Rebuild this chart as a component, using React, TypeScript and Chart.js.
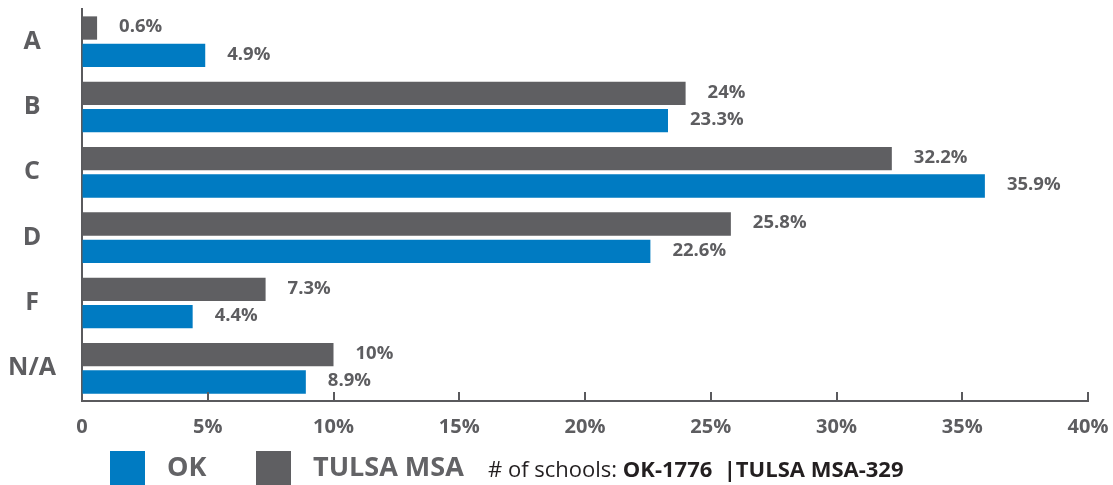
import React, { useEffect, useRef } from "react";
import { Chart, registerables } from "chart.js";

Chart.register(...registerables);

const categories = ["A", "B", "C", "D", "F", "N/A"];
const tulsaValues = [0.6, 24, 32.2, 25.8, 7.3, 10];
const okValues = [4.9, 23.3, 35.9, 22.6, 4.4, 8.9];
const xTickValues = [0, 5, 10, 15, 20, 25, 30, 35, 40];
const seriesLabels = ["TULSA MSA", "OK"];
const schoolsNote = "# of schools: ";
const schoolsCounts = "OK-1776  |TULSA MSA-329";

const BLUE = "#007bc2";
const GRAY = "#5f5f62";
const TEXT = "#5d5d60";
const AXIS = "#5a5a5d";
const FONT = "'Open Sans', 'DejaVu Sans', sans-serif";

const zeroPadding = (s: any) => {
  s.paddingTop = 0;
  s.paddingBottom = 0;
  s.paddingLeft = 0;
  s.paddingRight = 0;
};

const tickMarksPlugin = {
  id: "tickMarks",
  afterDraw(chart: any) {
    const x = chart.scales.x;
    const ctx = chart.ctx;
    const yAxis = chart.chartArea.bottom;
    ctx.save();
    ctx.strokeStyle = AXIS;
    ctx.lineWidth = 2;
    xTickValues.forEach((v) => {
      const px = Math.round(x.getPixelForValue(v));
      if (v === 0) return;
      ctx.beginPath();
      ctx.moveTo(px, yAxis);
      ctx.lineTo(px, yAxis - 9);
      ctx.stroke();
    });
    ctx.restore();
  },
};

const valueLabelsPlugin = {
  id: "valueLabels",
  afterDatasetsDraw(chart: any) {
    const ctx = chart.ctx;
    ctx.save();
    ctx.font = `bold 18.5px ${FONT}`;
    ctx.fillStyle = TEXT;
    ctx.textAlign = "left";
    ctx.textBaseline = "middle";
    chart.data.datasets.forEach((ds: any, i: number) => {
      const meta = chart.getDatasetMeta(i);
      meta.data.forEach((bar: any, j: number) => {
        ctx.fillText(ds.data[j] + "%", bar.x + 22, bar.y - 1);
      });
    });
    ctx.restore();
  },
};

const legendPlugin = {
  id: "customLegend",
  afterDraw(chart: any) {
    const ctx = chart.ctx;
    const ds = chart.data.datasets;
    const items = [
      { label: ds[1].label, color: ds[1].backgroundColor, box: 110, text: 167 },
      { label: ds[0].label, color: ds[0].backgroundColor, box: 256, text: 313 },
    ];
    ctx.save();
    items.forEach((it) => {
      ctx.fillStyle = it.color;
      ctx.fillRect(it.box, 451, 35, 34);
      ctx.fillStyle = "#636366";
      ctx.font = `bold 27px ${FONT}`;
      ctx.textBaseline = "middle";
      ctx.textAlign = "left";
      ctx.fillText(it.label, it.text, 468);
    });
    ctx.fillStyle = "#231f20";
    ctx.font = `22px ${FONT}`;
    ctx.textBaseline = "alphabetic";
    ctx.fillText(schoolsNote, 488, 477);
    const w = ctx.measureText(schoolsNote).width;
    ctx.font = `bold 22px ${FONT}`;
    ctx.fillText(schoolsCounts, 488 + w, 477);
    ctx.restore();
  },
};

export default function App() {
  const ref = useRef<HTMLCanvasElement | null>(null);
  useEffect(() => {
    document.body.style.margin = "0";
    const chart = new Chart(ref.current as HTMLCanvasElement, {
      type: "bar",
      data: {
        labels: categories,
        datasets: [
          { label: seriesLabels[0], data: tulsaValues, backgroundColor: GRAY },
          { label: seriesLabels[1], data: okValues, backgroundColor: BLUE },
        ],
      },
      options: {
        indexAxis: "y",
        responsive: false,
        animation: false,
        maintainAspectRatio: false,
        datasets: { bar: { categoryPercentage: 0.835, barPercentage: 0.855 } },
        layout: { padding: { top: 9, right: 25, bottom: 42, left: 0 } },
        plugins: { legend: { display: false }, tooltip: { enabled: false } },
        scales: {
          x: {
            type: "linear",
            min: 0,
            max: 40,
            afterFit: (s: any) => {
              s.height = 42;
              zeroPadding(s);
            },
            afterBuildTicks: (s: any) => {
              s.ticks = xTickValues.map((v) => ({ value: v }));
            },
            ticks: {
              color: TEXT,
              font: { family: FONT, size: 20, weight: "bold" },
              padding: 14,
              maxRotation: 0,
              callback: (v: any) => (Number(v) === 0 ? "0" : v + "%"),
            },
            grid: { display: true, drawOnChartArea: false, drawTicks: false },
            border: { display: true, color: AXIS, width: 2 },
          },
          y: {
            afterFit: (s: any) => {
              s.width = 82;
              zeroPadding(s);
            },
            ticks: {
              color: TEXT,
              font: { family: FONT, size: 25, weight: "bold" },
              padding: 26,
              crossAlign: "center",
            },
            grid: { display: true, drawOnChartArea: false, drawTicks: false },
            border: { display: true, color: AXIS, width: 2 },
          },
        },
      },
      plugins: [tickMarksPlugin, valueLabelsPlugin, legendPlugin],
    } as any);
    return () => chart.destroy();
  }, []);
  return (
    <div style={{ width: 1113, height: 485 }}>
      <canvas ref={ref} width={1113} height={485} style={{ width: 1113, height: 485, display: "block" }} />
    </div>
  );
}
